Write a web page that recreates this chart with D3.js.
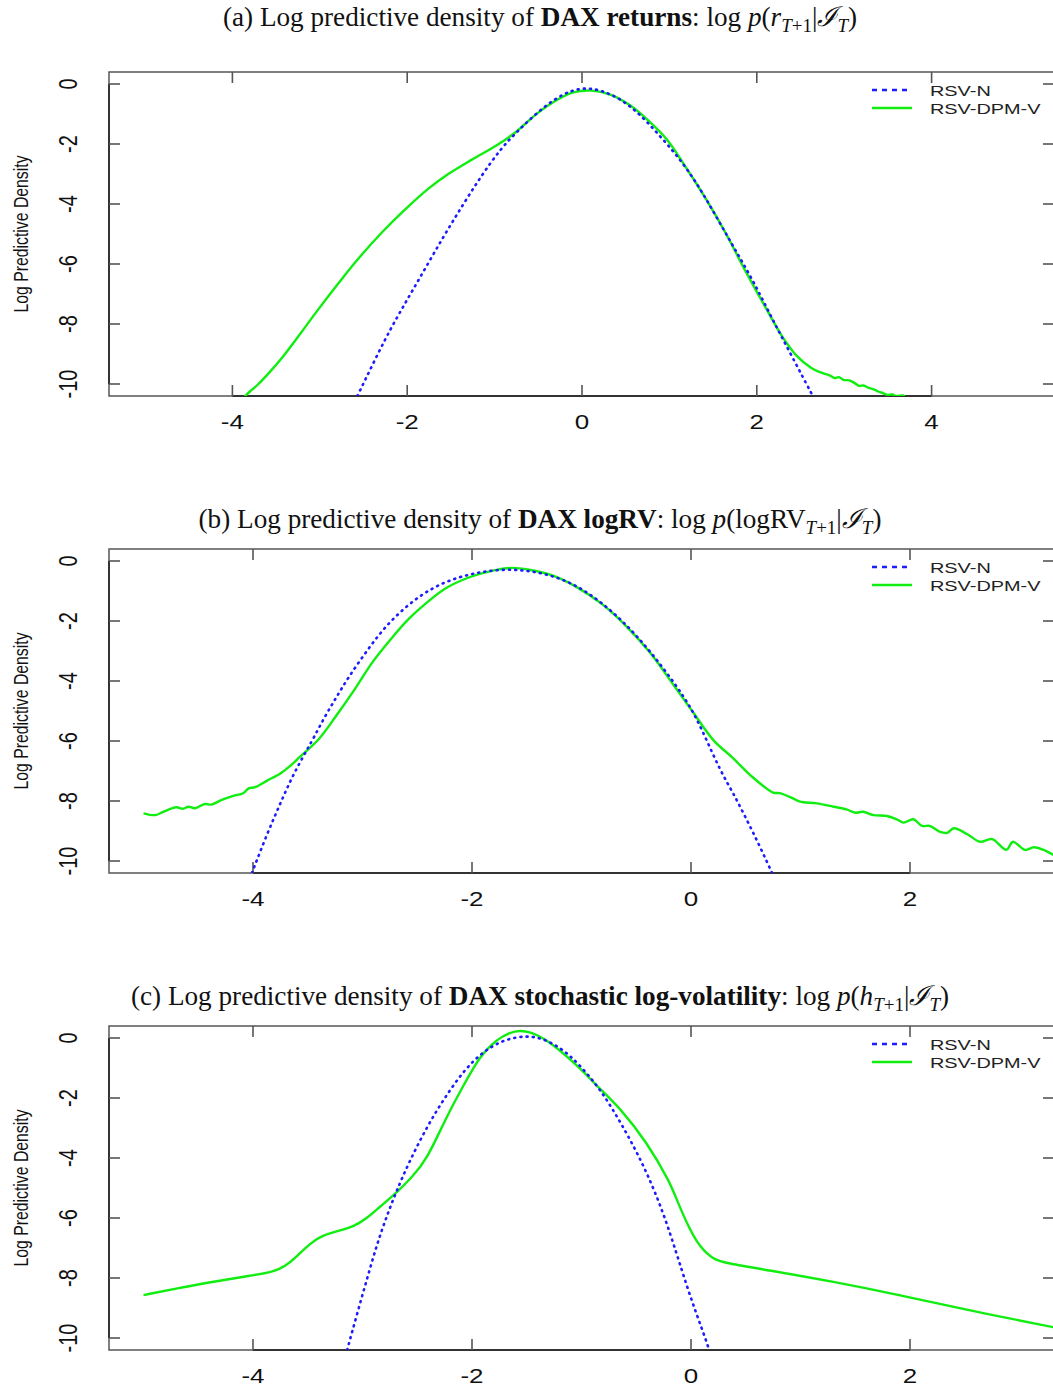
<!DOCTYPE html>
<html>
<head>
<meta charset="utf-8">
<script src="https://cdn.jsdelivr.net/npm/d3@7"></script>
<style>
  body { margin: 0; background: #fff; }
  svg { display: block; }
</style>
</head>
<body>
<svg id="chart" width="1053" height="1388"></svg>
<script>
// ---- tick labels and legend entries ----
const yTicks = [0, -2, -4, -6, -8, -10];
const xTicksReturns = [-4, -2, 0, 2, 4];
const xTicksVol = [-4, -2, 0, 2];
const seriesNames = ["RSV-N", "RSV-DPM-V"];

// ---- (a) DAX returns: [x, log density] ----
const returnsNormal = [
  [-2.57,-10.4],[-2.24,-8.41],[-2.02,-7.29],[-1.80,-6.18],[-1.58,-5.06],[-1.37,-4.06],
  [-1.15,-3.05],[-0.93,-2.16],[-0.76,-1.64],[-0.55,-1.05],[-0.33,-0.52],[-0.11,-0.19],
  [0.06,-0.13],[0.22,-0.21],[0.44,-0.49],[0.66,-1.0],[0.87,-1.66],[1.09,-2.39],
  [1.31,-3.28],[1.53,-4.39],[1.75,-5.51],[1.97,-6.62],[2.18,-7.85],[2.40,-9.07],[2.65,-10.45]
];
const returnsDpm = [
  [-3.86,-10.42],[-3.80,-10.25],[-3.72,-10.05],[-3.61,-9.72],[-3.42,-9.08],[-3.23,-8.35],
  [-3.06,-7.68],[-2.78,-6.62],[-2.57,-5.86],[-2.29,-4.95],[-2.02,-4.17],[-1.75,-3.47],
  [-1.53,-3.0],[-1.26,-2.52],[-0.98,-2.05],[-0.76,-1.61],[-0.55,-1.07],[-0.33,-0.61],
  [-0.11,-0.29],[0.11,-0.22],[0.33,-0.36],[0.55,-0.71],[0.76,-1.22],[0.98,-1.88],
  [1.20,-2.83],[1.42,-3.84],[1.64,-4.95],[1.86,-6.18],[2.07,-7.29],[2.29,-8.41],
  [2.46,-9.07],[2.62,-9.46],[2.70,-9.58],[2.78,-9.66],[2.84,-9.72],[2.89,-9.80],
  [2.94,-9.77],[2.99,-9.86],[3.06,-9.88],[3.12,-9.97],[3.17,-10.06],[3.22,-10.05],
  [3.28,-10.13],[3.34,-10.18],[3.39,-10.25],[3.45,-10.31],[3.49,-10.36],[3.55,-10.35],
  [3.60,-10.40],[3.67,-10.38],[3.70,-10.45]
];

// ---- (b) DAX logRV ----
const logrvNormal = [
  [-4.01,-10.4],[-3.87,-9.08],[-3.75,-8.08],[-3.63,-7.08],[-3.46,-6.0],[-3.35,-5.22],
  [-3.24,-4.55],[-3.13,-3.88],[-2.96,-2.99],[-2.80,-2.21],[-2.58,-1.43],[-2.36,-0.88],
  [-2.14,-0.55],[-1.92,-0.36],[-1.70,-0.27],[-1.48,-0.32],[-1.26,-0.49],[-1.04,-0.82],
  [-0.815,-1.38],[-0.595,-2.10],[-0.375,-2.99],[-0.154,-4.05],[0.011,-4.94],[0.143,-5.97],
  [0.265,-6.97],[0.386,-7.74],[0.51,-8.63],[0.63,-9.52],[0.74,-10.4]
];
const logrvDpm = [
  [-5.0,-8.41],[-4.89,-8.47],[-4.82,-8.36],[-4.70,-8.21],[-4.64,-8.26],[-4.59,-8.19],
  [-4.53,-8.24],[-4.44,-8.10],[-4.38,-8.12],[-4.29,-7.97],[-4.18,-7.83],[-4.09,-7.74],
  [-4.04,-7.58],[-3.98,-7.54],[-3.87,-7.32],[-3.75,-7.08],[-3.66,-6.83],[-3.57,-6.52],
  [-3.40,-5.94],[-3.24,-5.16],[-3.07,-4.27],[-2.91,-3.38],[-2.74,-2.60],[-2.58,-1.94],
  [-2.41,-1.38],[-2.25,-0.93],[-2.03,-0.55],[-1.81,-0.32],[-1.64,-0.23],[-1.48,-0.29],
  [-1.26,-0.49],[-1.04,-0.88],[-0.815,-1.43],[-0.595,-2.16],[-0.375,-3.05],[-0.154,-4.16],
  [0.03,-5.10],[0.204,-5.97],[0.386,-6.58],[0.539,-7.13],[0.75,-7.72],[0.81,-7.74],
  [0.93,-7.91],[0.995,-8.02],[1.148,-8.08],[1.30,-8.19],[1.42,-8.28],[1.50,-8.39],
  [1.57,-8.36],[1.665,-8.47],[1.79,-8.50],[1.88,-8.61],[1.94,-8.72],[2.03,-8.61],
  [2.11,-8.83],[2.18,-8.83],[2.27,-9.02],[2.34,-9.06],[2.40,-8.91],[2.52,-9.10],
  [2.64,-9.36],[2.75,-9.27],[2.88,-9.63],[2.94,-9.36],[3.05,-9.63],[3.13,-9.54],
  [3.22,-9.63],[3.31,-9.80]
];

// ---- (c) DAX stochastic log-volatility ----
const logvolNormal = [
  [-3.14,-10.4],[-3.05,-9.2],[-2.96,-8.05],[-2.87,-6.9],[-2.78,-5.95],[-2.69,-5.1],
  [-2.57,-4.1],[-2.41,-2.95],[-2.26,-2.05],[-2.08,-1.1],[-1.90,-0.45],[-1.71,-0.05],
  [-1.50,0.09],[-1.32,-0.04],[-1.10,-0.55],[-0.86,-1.55],[-0.71,-2.4],[-0.56,-3.35],
  [-0.40,-4.5],[-0.25,-5.85],[-0.13,-7.2],[-0.04,-8.25],[0.05,-9.2],[0.14,-10.1],[0.17,-10.45]
];
const logvolDpm = [
  [-5.0,-8.57],[-4.64,-8.31],[-4.33,-8.10],[-4.03,-7.93],[-3.81,-7.79],[-3.71,-7.62],
  [-3.60,-7.29],[-3.48,-6.84],[-3.36,-6.57],[-3.21,-6.42],[-3.08,-6.29],[-2.96,-6.01],
  [-2.84,-5.62],[-2.69,-5.16],[-2.55,-4.65],[-2.41,-4.04],[-2.23,-2.6],[-2.08,-1.6],
  [-1.93,-0.6],[-1.77,-0.04],[-1.66,0.18],[-1.56,0.26],[-1.46,0.19],[-1.35,0.01],
  [-1.17,-0.49],[-1.0,-1.05],[-0.86,-1.6],[-0.65,-2.32],[-0.40,-3.49],[-0.19,-4.82],
  [-0.13,-5.4],[-0.01,-6.4],[0.08,-6.96],[0.20,-7.38],[0.33,-7.51],[0.69,-7.73],
  [1.30,-8.12],[1.91,-8.57],[2.52,-9.07],[3.31,-9.64]
];

// ---- layout ----
const svg = d3.select("#chart");
const plotLeft = 109, plotRight = 1054;
const yDomain = [-10.4, 0.4];
const textStretch = 1.3;          // plot text is set wide
const blue = "#1c1cff", green = "#10ee10";

// title pieces: [text, style]
const titles = [
  [["(a) Log predictive density of ", ""], ["DAX returns", "b"], [": log ", ""],
   ["p", "i"], ["(", ""], ["r", "i"], ["T", "is"], ["+1", "s"], ["|", "r"],
   ["\u2110", "i"], ["T", "is"], [")", "r"]],
  [["(b) Log predictive density of ", ""], ["DAX logRV", "b"], [": log ", ""],
   ["p", "i"], ["(logRV", ""], ["T", "is"], ["+1", "s"], ["|", "r"],
   ["\u2110", "i"], ["T", "is"], [")", "r"]],
  [["(c) Log predictive density of ", ""], ["DAX stochastic log-volatility", "b"], [": log ", ""],
   ["p", "i"], ["(", ""], ["h", "i"], ["T", "is"], ["+1", "s"], ["|", "r"],
   ["\u2110", "i"], ["T", "is"], [")", "r"]]
];

const smooth = d3.curveBasis;
const wiggly = d3.curveCatmullRom.alpha(0.5);

const panels = [
  { top: 72, bottom: 396, titleY: 26, xDomain: [(109 - 582) / 87.4, (1054 - 582) / 87.4],
    xTicks: xTicksReturns, normal: returnsNormal, dpm: returnsDpm, dpmCurve: wiggly, title: titles[0] },
  { top: 549, bottom: 873, titleY: 528, xDomain: [(109 - 691) / 109.5, (1054 - 691) / 109.5],
    xTicks: xTicksVol, normal: logrvNormal, dpm: logrvDpm, dpmCurve: wiggly, title: titles[1] },
  { top: 1026, bottom: 1350, titleY: 1005, xDomain: [(109 - 691) / 109.5, (1054 - 691) / 109.5],
    xTicks: xTicksVol, normal: logvolNormal, dpm: logvolDpm, dpmCurve: smooth, title: titles[2] }
];

panels.forEach((p, i) => {
  const x = d3.scaleLinear().domain(p.xDomain).range([plotLeft, plotRight]);
  const y = d3.scaleLinear().domain(yDomain).range([p.bottom, p.top]);
  const g = svg.append("g");

  // title
  const t = g.append("text")
    .attr("x", 540).attr("y", p.titleY)
    .attr("text-anchor", "middle")
    .attr("font-family", "'Liberation Serif', 'Times New Roman', serif")
    .attr("font-size", 27.2)
    .attr("fill", "#111");
  let shifted = false;
  p.title.forEach(([txt, st]) => {
    const s = t.append("tspan").text(txt);
    if (st.includes("b")) s.attr("font-weight", "bold");
    if (st.includes("i")) s.attr("font-style", "italic");
    if (st.includes("s")) {
      s.attr("font-size", 19);
      if (!shifted) { s.attr("dy", 5.5); shifted = true; }
    } else if (shifted) {
      s.attr("dy", -5.5); shifted = false;
    }
  });

  // clip region for curves
  const clipId = "clip" + i;
  svg.append("defs").append("clipPath").attr("id", clipId)
    .append("rect")
    .attr("x", plotLeft).attr("y", p.top)
    .attr("width", plotRight - plotLeft).attr("height", p.bottom - p.top);

  // frame
  g.append("rect")
    .attr("x", plotLeft).attr("y", p.top)
    .attr("width", plotRight - plotLeft).attr("height", p.bottom - p.top)
    .attr("fill", "none").attr("stroke", "#555").attr("stroke-width", 1.5);

  // bottom axis line between outer ticks
  g.append("line")
    .attr("x1", x(p.xTicks[0])).attr("x2", x(p.xTicks[p.xTicks.length - 1]))
    .attr("y1", p.bottom).attr("y2", p.bottom)
    .attr("stroke", "#333").attr("stroke-width", 2.2);
  // left axis line between outer ticks
  g.append("line")
    .attr("x1", plotLeft).attr("x2", plotLeft)
    .attr("y1", y(yTicks[0])).attr("y2", y(yTicks[yTicks.length - 1]))
    .attr("stroke", "#333").attr("stroke-width", 2);

  // inward ticks on all four sides
  const tickLen = 11;
  const tickStyle = sel => sel.attr("stroke", "#555").attr("stroke-width", 1.6);
  p.xTicks.forEach(v => {
    tickStyle(g.append("line").attr("x1", x(v)).attr("x2", x(v))
      .attr("y1", p.bottom).attr("y2", p.bottom - tickLen));
    tickStyle(g.append("line").attr("x1", x(v)).attr("x2", x(v))
      .attr("y1", p.top).attr("y2", p.top + tickLen));
    g.append("text")
      .attr("transform", `translate(${x(v)},${p.bottom + 33}) scale(${textStretch},1)`)
      .attr("text-anchor", "middle")
      .attr("font-family", "'Liberation Sans', Arial, sans-serif")
      .attr("font-size", 20)
      .attr("fill", "#111")
      .text(v);
  });
  yTicks.forEach(v => {
    tickStyle(g.append("line").attr("x1", plotLeft).attr("x2", plotLeft + tickLen)
      .attr("y1", y(v)).attr("y2", y(v)));
    tickStyle(g.append("line").attr("x1", plotRight).attr("x2", plotRight - tickLen)
      .attr("y1", y(v)).attr("y2", y(v)));
    g.append("text")
      .attr("transform", `translate(77,${y(v)}) scale(${textStretch},1) rotate(-90)`)
      .attr("text-anchor", "middle")
      .attr("font-family", "'Liberation Sans', Arial, sans-serif")
      .attr("font-size", 20)
      .attr("fill", "#111")
      .text(v);
  });

  // y axis title
  g.append("text")
    .attr("transform", `translate(28,${(p.top + p.bottom) / 2}) scale(${textStretch},1) rotate(-90)`)
    .attr("text-anchor", "middle")
    .attr("font-family", "'Liberation Sans', Arial, sans-serif")
    .attr("font-size", 15.8)
    .attr("fill", "#111")
    .text("Log Predictive Density");

  // curves
  const lineFor = curve => d3.line().x(d => x(d[0])).y(d => y(d[1])).curve(curve);
  const curves = g.append("g").attr("clip-path", `url(#${clipId})`);
  curves.append("path").datum(p.dpm)
    .attr("d", lineFor(p.dpmCurve)).attr("fill", "none")
    .attr("stroke", green).attr("stroke-width", 2.4);
  curves.append("path").datum(p.normal)
    .attr("d", lineFor(smooth)).attr("fill", "none")
    .attr("stroke", blue).attr("stroke-width", 2.6)
    .attr("stroke-dasharray", "1,5.2").attr("stroke-linecap", "round");

  // legend
  const legY = [p.top + 18, p.top + 36];
  g.append("line").attr("x1", 872).attr("x2", 910).attr("y1", legY[0]).attr("y2", legY[0])
    .attr("stroke", blue).attr("stroke-width", 2.4)
    .attr("stroke-dasharray", "5,5");
  g.append("line").attr("x1", 872).attr("x2", 912).attr("y1", legY[1]).attr("y2", legY[1])
    .attr("stroke", green).attr("stroke-width", 2.4);
  seriesNames.forEach((name, k) => {
    g.append("text")
      .attr("transform", `translate(930,${legY[k] + 5.6}) scale(${textStretch},1)`)
      .attr("font-family", "'Liberation Sans', Arial, sans-serif")
      .attr("font-size", 15.3)
      .attr("fill", "#222")
      .text(name);
  });
});
</script>
</body>
</html>
